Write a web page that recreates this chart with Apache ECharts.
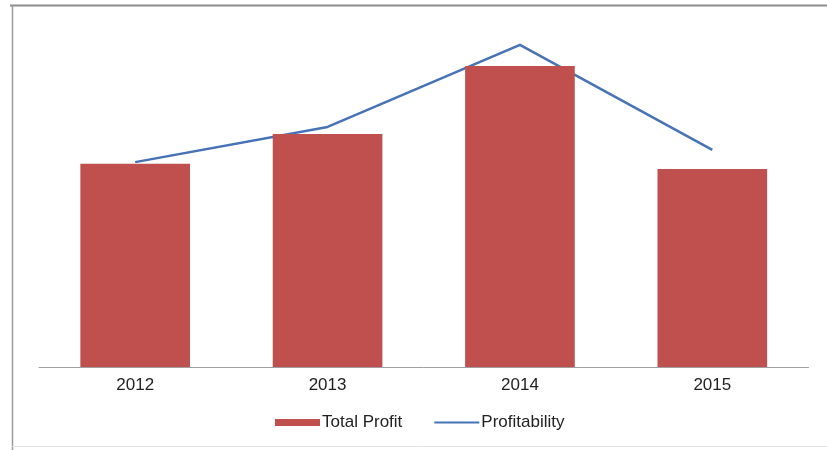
<!DOCTYPE html>
<html>
<head>
<meta charset="utf-8">
<script src="https://cdn.jsdelivr.net/npm/echarts@6/dist/echarts.min.js"></script>
<style>html,body{margin:0;padding:0;background:#fff;}#c{width:827px;height:450px;}</style>
</head>
<body>
<div id="c"></div>
<script>
var categories = ['2012', '2013', '2014', '2015'];
var totalProfit = [59.4, 68.1, 88.0, 57.9];
var profitability = [59.9, 70.2, 94.2, 63.5];

var chart = echarts.init(document.getElementById('c'), null, {renderer: 'canvas'});
chart.setOption({
  backgroundColor: '#ffffff',
  animation: false,
  graphic: [
    {type: 'line', shape: {x1: 10, y1: 5.5, x2: 827, y2: 5.5}, style: {stroke: '#8c8c8c', lineWidth: 2}},
    {type: 'line', shape: {x1: 12.5, y1: 5, x2: 12.5, y2: 450}, style: {stroke: '#9a9a9a', lineWidth: 1.5}},
    {type: 'line', shape: {x1: 12, y1: 446.5, x2: 827, y2: 446.5}, style: {stroke: '#e4e4e4', lineWidth: 1}}
  ],
  grid: {left: 39, right: 18.5, top: 25, bottom: 83, containLabel: false},
  legend: {
    left: 270,
    top: 409,
    itemGap: 32,
    itemWidth: 45,
    itemHeight: 7,
    textStyle: {fontFamily: 'Liberation Sans, Arial', fontSize: 17, color: '#222', padding: [0, 0, 0, -3]},
    data: [
      {name: 'Total Profit', icon: 'rect'},
      {name: 'Profitability', icon: 'path://M0,2.6 L45,2.6 L45,4.6 L0,4.6 Z'}
    ]
  },
  xAxis: {
    type: 'category',
    data: categories,
    axisLine: {lineStyle: {color: '#a0a0a0', width: 1}},
    axisTick: {show: false},
    axisLabel: {fontFamily: 'Liberation Sans, Arial', fontSize: 17, color: '#222', margin: 10}
  },
  yAxis: {
    type: 'value',
    min: 0,
    max: 100,
    show: false,
    splitLine: {show: false}
  },
  series: [
    {
      name: 'Profitability',
      type: 'line',
      data: profitability,
      symbol: 'none',
      z: 1,
      lineStyle: {color: '#4672b6', width: 2.5},
      itemStyle: {color: '#4672b6'}
    },
    {
      name: 'Total Profit',
      type: 'bar',
      data: totalProfit,
      barCategoryGap: '43%',
      z: 2,
      itemStyle: {color: '#c0504d'}
    }
  ]
});
</script>
</body>
</html>
